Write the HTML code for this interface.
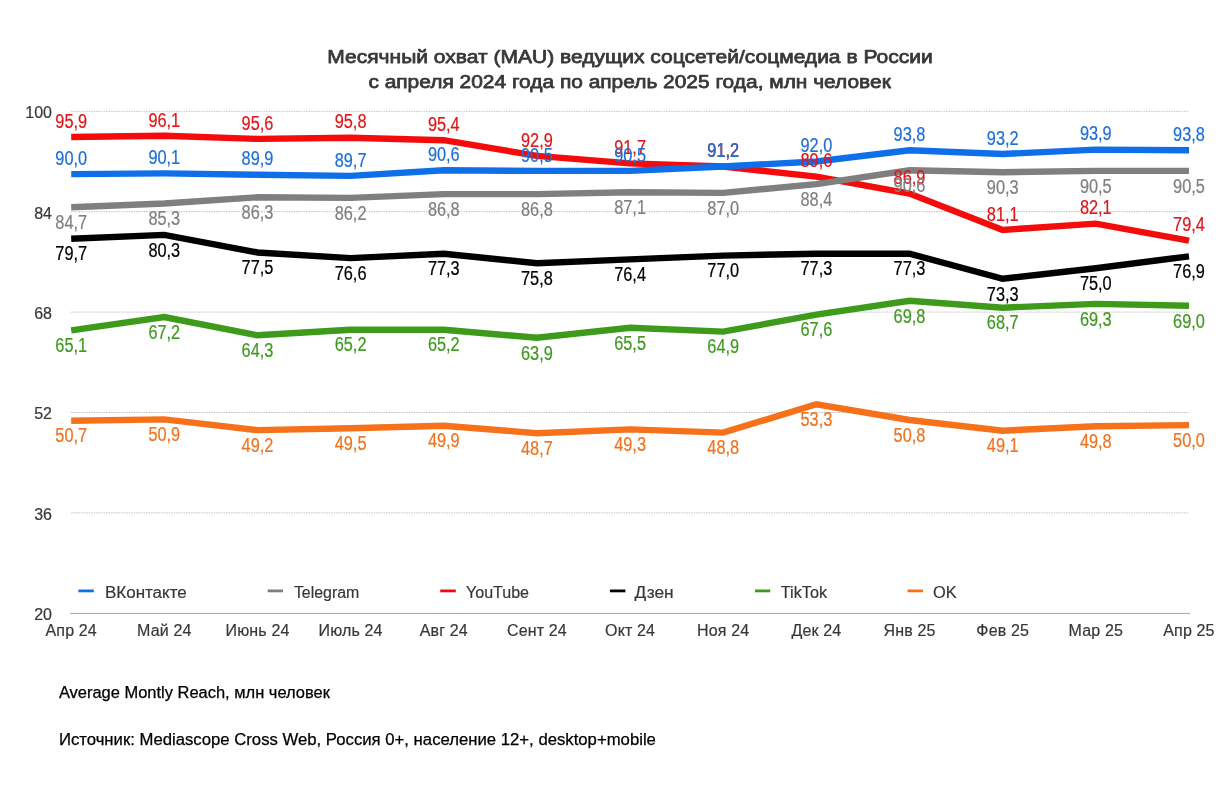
<!DOCTYPE html>
<html lang="ru"><head><meta charset="utf-8"><title>Месячный охват (MAU) ведущих соцсетей/соцмедиа в России</title>
<style>
html,body{margin:0;padding:0;background:#fff;}
body{width:1223px;height:797px;overflow:hidden;font-family:"Liberation Sans",sans-serif;}
svg{display:block;}
text{font-family:"Liberation Sans",sans-serif;}
.title{font-size:18.7px;font-weight:400;fill:#383838;stroke:#383838;stroke-width:0.75px;stroke-linejoin:round;text-anchor:middle;}
.ax{font-size:16px;fill:#383838;stroke:#383838;stroke-width:0.2px;}
.foot{font-size:16px;fill:#000;stroke:#000;stroke-width:0.25px;}
.lab{font-size:19.4px;text-anchor:middle;stroke-width:0.22px;}
.grid{stroke:#bdbdbd;stroke-width:1;stroke-dasharray:1.4 1.1;}
</style></head><body>
<svg width="1223" height="797" viewBox="0 0 1223 797">
<rect width="1223" height="797" fill="#fff"/>
<text class="title" x="630" y="63.2" textLength="605.4" lengthAdjust="spacingAndGlyphs">Месячный охват (MAU) ведущих соцсетей/соцмедиа в России</text>
<text class="title" x="629.6" y="87.5" textLength="522.4" lengthAdjust="spacingAndGlyphs">с апреля 2024 года по апрель 2025 года, млн человек</text>
<line class="grid" x1="71.2" x2="1189.0" y1="111.3" y2="111.3"/>
<line class="grid" x1="71.2" x2="1189.0" y1="211.7" y2="211.7"/>
<line class="grid" x1="71.2" x2="1189.0" y1="312.1" y2="312.1"/>
<line class="grid" x1="71.2" x2="1189.0" y1="412.5" y2="412.5"/>
<line class="grid" x1="71.2" x2="1189.0" y1="512.9" y2="512.9"/>
<line x1="70.2" x2="1190.0" y1="613.4" y2="613.4" stroke="#a2a2a2" stroke-width="1"/>
<text class="ax" x="52" y="118.1" text-anchor="end">100</text>
<text class="ax" x="52" y="218.5" text-anchor="end">84</text>
<text class="ax" x="52" y="318.9" text-anchor="end">68</text>
<text class="ax" x="52" y="419.3" text-anchor="end">52</text>
<text class="ax" x="52" y="519.7" text-anchor="end">36</text>
<text class="ax" x="52" y="620.1" text-anchor="end">20</text>
<text class="ax" x="71.2" y="635.7" text-anchor="middle" letter-spacing="0.15">Апр 24</text>
<text class="ax" x="164.3" y="635.7" text-anchor="middle" letter-spacing="0.15">Май 24</text>
<text class="ax" x="257.5" y="635.7" text-anchor="middle" letter-spacing="0.15">Июнь 24</text>
<text class="ax" x="350.6" y="635.7" text-anchor="middle" letter-spacing="0.15">Июль 24</text>
<text class="ax" x="443.8" y="635.7" text-anchor="middle" letter-spacing="0.15">Авг 24</text>
<text class="ax" x="536.9" y="635.7" text-anchor="middle" letter-spacing="0.15">Сент 24</text>
<text class="ax" x="630.1" y="635.7" text-anchor="middle" letter-spacing="0.15">Окт 24</text>
<text class="ax" x="723.2" y="635.7" text-anchor="middle" letter-spacing="0.15">Ноя 24</text>
<text class="ax" x="816.4" y="635.7" text-anchor="middle" letter-spacing="0.15">Дек 24</text>
<text class="ax" x="909.5" y="635.7" text-anchor="middle" letter-spacing="0.15">Янв 25</text>
<text class="ax" x="1002.7" y="635.7" text-anchor="middle" letter-spacing="0.15">Фев 25</text>
<text class="ax" x="1095.8" y="635.7" text-anchor="middle" letter-spacing="0.15">Мар 25</text>
<text class="ax" x="1189.0" y="635.7" text-anchor="middle" letter-spacing="0.15">Апр 25</text>
<line x1="78.4" x2="93.8" y1="590.9" y2="590.9" stroke="#0f6fe8" stroke-width="2.8"/>
<text class="ax" x="105.0" y="597.7" textLength="81.7" lengthAdjust="spacingAndGlyphs">ВКонтакте</text>
<line x1="267.7" x2="283.0" y1="590.9" y2="590.9" stroke="#7f7f7f" stroke-width="2.8"/>
<text class="ax" x="293.9" y="597.7" textLength="65.4" lengthAdjust="spacingAndGlyphs">Telegram</text>
<line x1="440.2" x2="455.8" y1="590.9" y2="590.9" stroke="#f40b0b" stroke-width="2.8"/>
<text class="ax" x="466.0" y="597.7" textLength="63.0" lengthAdjust="spacingAndGlyphs">YouTube</text>
<line x1="609.9" x2="625.4" y1="590.9" y2="590.9" stroke="#000000" stroke-width="2.8"/>
<text class="ax" x="634.4" y="597.7" textLength="39.3" lengthAdjust="spacingAndGlyphs">Дзен</text>
<line x1="755.0" x2="770.2" y1="590.9" y2="590.9" stroke="#3d9a1b" stroke-width="2.8"/>
<text class="ax" x="780.8" y="597.7" textLength="46.2" lengthAdjust="spacingAndGlyphs">TikTok</text>
<line x1="907.5" x2="923.0" y1="590.9" y2="590.9" stroke="#f6711a" stroke-width="2.8"/>
<text class="ax" x="932.9" y="597.7" textLength="23.7" lengthAdjust="spacingAndGlyphs">OK</text>
<polyline points="71.2,420.7 164.3,419.4 257.5,430.1 350.6,428.2 443.8,425.7 536.9,433.2 630.1,429.4 723.2,432.6 816.4,404.3 909.5,420.0 1002.7,430.7 1095.8,426.3 1189.0,425.1" fill="none" stroke="#f6711a" stroke-width="6.4" stroke-linejoin="miter" stroke-linecap="butt"/>
<polyline points="71.2,330.3 164.3,317.1 257.5,335.3 350.6,329.7 443.8,329.7 536.9,337.8 630.1,327.8 723.2,331.6 816.4,314.6 909.5,300.8 1002.7,307.7 1095.8,303.9 1189.0,305.8" fill="none" stroke="#3d9a1b" stroke-width="6.4" stroke-linejoin="miter" stroke-linecap="butt"/>
<polyline points="71.2,238.7 164.3,234.9 257.5,252.5 350.6,258.1 443.8,253.7 536.9,263.2 630.1,259.4 723.2,255.6 816.4,253.7 909.5,253.7 1002.7,278.8 1095.8,268.2 1189.0,256.3" fill="none" stroke="#000000" stroke-width="6.4" stroke-linejoin="miter" stroke-linecap="butt"/>
<polyline points="71.2,137.0 164.3,135.8 257.5,138.9 350.6,137.7 443.8,140.2 536.9,155.9 630.1,163.4 723.2,166.5 816.4,176.6 909.5,193.5 1002.7,229.9 1095.8,223.6 1189.0,240.6" fill="none" stroke="#f40b0b" stroke-width="6.4" stroke-linejoin="miter" stroke-linecap="butt"/>
<polyline points="71.2,207.3 164.3,203.5 257.5,197.3 350.6,197.9 443.8,194.1 536.9,194.1 630.1,192.2 723.2,192.9 816.4,184.1 909.5,170.3 1002.7,172.2 1095.8,170.9 1189.0,170.9" fill="none" stroke="#7f7f7f" stroke-width="6.4" stroke-linejoin="miter" stroke-linecap="butt"/>
<polyline points="71.2,174.1 164.3,173.4 257.5,174.7 350.6,175.9 443.8,170.3 536.9,170.9 630.1,170.9 723.2,166.5 816.4,161.5 909.5,150.2 1002.7,154.0 1095.8,149.6 1189.0,150.2" fill="none" stroke="#0f6fe8" stroke-width="6.4" stroke-linejoin="miter" stroke-linecap="butt"/>
<g class="lab" fill="#f0731f" stroke="#f0731f">
<text x="71.2" y="442.4" textLength="31.8" lengthAdjust="spacingAndGlyphs">50,7</text>
<text x="164.3" y="441.1" textLength="31.8" lengthAdjust="spacingAndGlyphs">50,9</text>
<text x="257.5" y="451.8" textLength="31.8" lengthAdjust="spacingAndGlyphs">49,2</text>
<text x="350.6" y="449.9" textLength="31.8" lengthAdjust="spacingAndGlyphs">49,5</text>
<text x="443.8" y="447.4" textLength="31.8" lengthAdjust="spacingAndGlyphs">49,9</text>
<text x="536.9" y="454.9" textLength="31.8" lengthAdjust="spacingAndGlyphs">48,7</text>
<text x="630.1" y="451.1" textLength="31.8" lengthAdjust="spacingAndGlyphs">49,3</text>
<text x="723.2" y="454.3" textLength="31.8" lengthAdjust="spacingAndGlyphs">48,8</text>
<text x="816.4" y="426.0" textLength="31.8" lengthAdjust="spacingAndGlyphs">53,3</text>
<text x="909.5" y="441.7" textLength="31.8" lengthAdjust="spacingAndGlyphs">50,8</text>
<text x="1002.7" y="452.4" textLength="31.8" lengthAdjust="spacingAndGlyphs">49,1</text>
<text x="1095.8" y="448.0" textLength="31.8" lengthAdjust="spacingAndGlyphs">49,8</text>
<text x="1189.0" y="446.8" textLength="31.8" lengthAdjust="spacingAndGlyphs">50,0</text>
</g>
<g class="lab" fill="#3f9a20" stroke="#3f9a20">
<text x="71.2" y="352.0" textLength="31.8" lengthAdjust="spacingAndGlyphs">65,1</text>
<text x="164.3" y="338.8" textLength="31.8" lengthAdjust="spacingAndGlyphs">67,2</text>
<text x="257.5" y="357.0" textLength="31.8" lengthAdjust="spacingAndGlyphs">64,3</text>
<text x="350.6" y="351.4" textLength="31.8" lengthAdjust="spacingAndGlyphs">65,2</text>
<text x="443.8" y="351.4" textLength="31.8" lengthAdjust="spacingAndGlyphs">65,2</text>
<text x="536.9" y="359.5" textLength="31.8" lengthAdjust="spacingAndGlyphs">63,9</text>
<text x="630.1" y="349.5" textLength="31.8" lengthAdjust="spacingAndGlyphs">65,5</text>
<text x="723.2" y="353.3" textLength="31.8" lengthAdjust="spacingAndGlyphs">64,9</text>
<text x="816.4" y="336.3" textLength="31.8" lengthAdjust="spacingAndGlyphs">67,6</text>
<text x="909.5" y="322.5" textLength="31.8" lengthAdjust="spacingAndGlyphs">69,8</text>
<text x="1002.7" y="329.4" textLength="31.8" lengthAdjust="spacingAndGlyphs">68,7</text>
<text x="1095.8" y="325.6" textLength="31.8" lengthAdjust="spacingAndGlyphs">69,3</text>
<text x="1189.0" y="327.5" textLength="31.8" lengthAdjust="spacingAndGlyphs">69,0</text>
</g>
<g class="lab" fill="#000000" stroke="#000000">
<text x="71.2" y="260.4" textLength="31.8" lengthAdjust="spacingAndGlyphs">79,7</text>
<text x="164.3" y="256.6" textLength="31.8" lengthAdjust="spacingAndGlyphs">80,3</text>
<text x="257.5" y="274.2" textLength="31.8" lengthAdjust="spacingAndGlyphs">77,5</text>
<text x="350.6" y="279.8" textLength="31.8" lengthAdjust="spacingAndGlyphs">76,6</text>
<text x="443.8" y="275.4" textLength="31.8" lengthAdjust="spacingAndGlyphs">77,3</text>
<text x="536.9" y="284.9" textLength="31.8" lengthAdjust="spacingAndGlyphs">75,8</text>
<text x="630.1" y="281.1" textLength="31.8" lengthAdjust="spacingAndGlyphs">76,4</text>
<text x="723.2" y="277.3" textLength="31.8" lengthAdjust="spacingAndGlyphs">77,0</text>
<text x="816.4" y="275.4" textLength="31.8" lengthAdjust="spacingAndGlyphs">77,3</text>
<text x="909.5" y="275.4" textLength="31.8" lengthAdjust="spacingAndGlyphs">77,3</text>
<text x="1002.7" y="300.5" textLength="31.8" lengthAdjust="spacingAndGlyphs">73,3</text>
<text x="1095.8" y="289.9" textLength="31.8" lengthAdjust="spacingAndGlyphs">75,0</text>
<text x="1189.0" y="278.0" textLength="31.8" lengthAdjust="spacingAndGlyphs">76,9</text>
</g>
<g class="lab" fill="#e0161a" stroke="#e0161a">
<text x="71.2" y="127.7" textLength="31.8" lengthAdjust="spacingAndGlyphs">95,9</text>
<text x="164.3" y="126.5" textLength="31.8" lengthAdjust="spacingAndGlyphs">96,1</text>
<text x="257.5" y="129.6" textLength="31.8" lengthAdjust="spacingAndGlyphs">95,6</text>
<text x="350.6" y="128.4" textLength="31.8" lengthAdjust="spacingAndGlyphs">95,8</text>
<text x="443.8" y="130.9" textLength="31.8" lengthAdjust="spacingAndGlyphs">95,4</text>
<text x="536.9" y="146.6" textLength="31.8" lengthAdjust="spacingAndGlyphs">92,9</text>
<text x="630.1" y="154.1" textLength="31.8" lengthAdjust="spacingAndGlyphs">91,7</text>
<text x="723.2" y="157.2" textLength="31.8" lengthAdjust="spacingAndGlyphs">91,2</text>
<text x="816.4" y="167.3" textLength="31.8" lengthAdjust="spacingAndGlyphs">89,6</text>
<text x="909.5" y="184.2" textLength="31.8" lengthAdjust="spacingAndGlyphs">86,9</text>
<text x="1002.7" y="220.6" textLength="31.8" lengthAdjust="spacingAndGlyphs">81,1</text>
<text x="1095.8" y="214.3" textLength="31.8" lengthAdjust="spacingAndGlyphs">82,1</text>
<text x="1189.0" y="231.3" textLength="31.8" lengthAdjust="spacingAndGlyphs">79,4</text>
</g>
<g class="lab" fill="#808080" stroke="#808080">
<text x="71.2" y="229.0" textLength="31.8" lengthAdjust="spacingAndGlyphs">84,7</text>
<text x="164.3" y="225.2" textLength="31.8" lengthAdjust="spacingAndGlyphs">85,3</text>
<text x="257.5" y="219.0" textLength="31.8" lengthAdjust="spacingAndGlyphs">86,3</text>
<text x="350.6" y="219.6" textLength="31.8" lengthAdjust="spacingAndGlyphs">86,2</text>
<text x="443.8" y="215.8" textLength="31.8" lengthAdjust="spacingAndGlyphs">86,8</text>
<text x="536.9" y="215.8" textLength="31.8" lengthAdjust="spacingAndGlyphs">86,8</text>
<text x="630.1" y="213.9" textLength="31.8" lengthAdjust="spacingAndGlyphs">87,1</text>
<text x="723.2" y="214.6" textLength="31.8" lengthAdjust="spacingAndGlyphs">87,0</text>
<text x="816.4" y="205.8" textLength="31.8" lengthAdjust="spacingAndGlyphs">88,4</text>
<text x="909.5" y="192.0" textLength="31.8" lengthAdjust="spacingAndGlyphs">90,6</text>
<text x="1002.7" y="193.9" textLength="31.8" lengthAdjust="spacingAndGlyphs">90,3</text>
<text x="1095.8" y="192.6" textLength="31.8" lengthAdjust="spacingAndGlyphs">90,5</text>
<text x="1189.0" y="192.6" textLength="31.8" lengthAdjust="spacingAndGlyphs">90,5</text>
</g>
<g class="lab" fill="#1f6fd6" stroke="#1f6fd6">
<text x="71.2" y="164.8" textLength="31.8" lengthAdjust="spacingAndGlyphs">90,0</text>
<text x="164.3" y="164.1" textLength="31.8" lengthAdjust="spacingAndGlyphs">90,1</text>
<text x="257.5" y="165.4" textLength="31.8" lengthAdjust="spacingAndGlyphs">89,9</text>
<text x="350.6" y="166.6" textLength="31.8" lengthAdjust="spacingAndGlyphs">89,7</text>
<text x="443.8" y="161.0" textLength="31.8" lengthAdjust="spacingAndGlyphs">90,6</text>
<text x="536.9" y="161.6" textLength="31.8" lengthAdjust="spacingAndGlyphs">90,5</text>
<text x="630.1" y="161.6" textLength="31.8" lengthAdjust="spacingAndGlyphs">90,5</text>
<text x="723.2" y="157.2" textLength="31.8" lengthAdjust="spacingAndGlyphs">91,2</text>
<text x="816.4" y="152.2" textLength="31.8" lengthAdjust="spacingAndGlyphs">92,0</text>
<text x="909.5" y="140.9" textLength="31.8" lengthAdjust="spacingAndGlyphs">93,8</text>
<text x="1002.7" y="144.7" textLength="31.8" lengthAdjust="spacingAndGlyphs">93,2</text>
<text x="1095.8" y="140.3" textLength="31.8" lengthAdjust="spacingAndGlyphs">93,9</text>
<text x="1189.0" y="140.9" textLength="31.8" lengthAdjust="spacingAndGlyphs">93,8</text>
</g>
<text class="foot" x="58.9" y="697.8" textLength="271" lengthAdjust="spacingAndGlyphs">Average Montly Reach, млн человек</text>
<text class="foot" x="58.9" y="744.7" textLength="597" lengthAdjust="spacingAndGlyphs">Источник: Mediascope Cross Web, Россия 0+, население 12+, desktop+mobile</text>
</svg></body></html>
